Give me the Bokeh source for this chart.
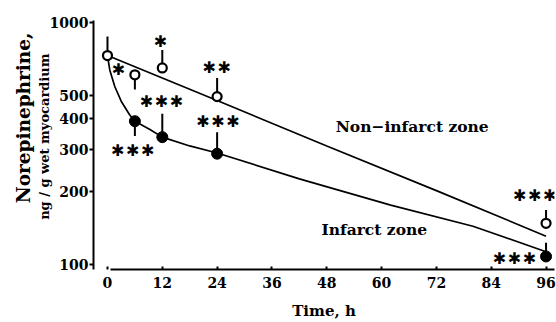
import math
from bokeh.plotting import figure
from bokeh.models import FixedTicker, NumeralTickFormatter, Title, Range1d
from bokeh.core.properties import value
from bokeh.embed import file_html
from bokeh.resources import INLINE

# ---- data ----
x_ticks = [0, 12, 24, 36, 48, 60, 72, 84, 96]
y_ticks = [100, 200, 300, 400, 500, 1000]

# non-infarct zone (open circles) and one-sided error bar ends
non_t = [0, 6, 12, 24, 96]
non_v = [730, 608, 649, 494, 148]
non_err = [875, 528, 769, 590, 168]

# infarct zone (filled circles)
inf_t = [6, 12, 24, 96]
inf_v = [391, 336, 287, 108]
inf_err = [340, 420, 352, 123]

# fitted curves
non_fit_t = [0, 24, 48, 72, 96]
non_fit_v = [730, 476, 309, 202, 131]
inf_fit_t = [0, 0.5, 1.6, 3, 4.8, 6, 9.2, 12, 18, 24, 42, 62, 80, 96]
inf_fit_v = [730, 637, 544, 473, 417, 391, 362, 336, 309, 289, 226, 176, 144, 113]

# significance stars: position (data) and count
star_t = [11.6, 2.4, 23.9, 11.8, 5.5, 24.2, 93.5, 89.1]
star_v = [831, 637, 649, 473, 295, 391, 193, 106]
star_n = [1, 1, 2, 3, 3, 3, 3, 3]

zone_names = ["Non\u2212infarct zone", "Infarct zone"]
zone_t = [66.7, 58.4]
zone_v = [373, 139]

y_title_1 = "Norepinephrine,"
y_title_2 = "ng / g wet myocardium"

FONT = "DejaVu Serif"

p = figure(width=556, height=322, output_backend="svg", toolbar_location=None,
           x_range=Range1d(-3.06, 97.85), y_range=Range1d(95.4, 1019),
           y_axis_type="log",
           min_border_left=93, min_border_right=2, min_border_top=20,
           min_border_bottom=50)
p.outline_line_color = None
p.grid.visible = False
p.background_fill_color = "white"
p.border_fill_color = "white"

# x axis
xa = p.xaxis[0]
xa.ticker = FixedTicker(ticks=x_ticks, minor_ticks=[])
xa.bounds = (0.6, 97.85)
xa.axis_line_width = 2
xa.axis_line_color = "black"
xa.major_tick_line_width = 2
xa.major_tick_in = 3
xa.major_tick_out = 0
xa.minor_tick_in = 0
xa.minor_tick_out = 0
xa.major_label_text_font = FONT
xa.major_label_text_font_style = "bold"
xa.major_label_text_font_size = "14px"
xa.major_label_text_color = "black"
xa.major_label_standoff = 7
xa.axis_label = "Time, h"
xa.axis_label_text_font = FONT
xa.axis_label_text_font_style = "bold"
xa.axis_label_text_font_size = "15px"
xa.axis_label_text_color = "black"
xa.axis_label_standoff = 11

# y axis
ya = p.yaxis[0]
ya.ticker = FixedTicker(ticks=y_ticks, minor_ticks=[])
ya.formatter = NumeralTickFormatter(format="0")
ya.axis_line_width = 2
ya.axis_line_color = "black"
ya.major_tick_line_width = 2
ya.major_tick_in = 0
ya.major_tick_out = 4
ya.minor_tick_in = 0
ya.minor_tick_out = 0
ya.major_label_text_font = FONT
ya.major_label_text_font_style = "bold"
ya.major_label_text_font_size = "14px"
ya.major_label_text_color = "black"
ya.major_label_standoff = 1

# y axis titles (two lines, different sizes)
p.add_layout(Title(text=y_title_2, align="right", offset=33, standoff=-11,
                   text_font=FONT, text_font_style="bold",
                   text_font_size="13px", text_color="black"), "left")
p.add_layout(Title(text=y_title_1, align="right", offset=12, standoff=13,
                   text_font=FONT, text_font_style="bold",
                   text_font_size="18.5px", text_color="black"), "left")

# fitted curves
p.line(non_fit_t, non_fit_v, line_color="black", line_width=1.7)
p.line(inf_fit_t, inf_fit_v, line_color="black", line_width=1.7)

# error bars
p.segment(x0=non_t, y0=non_v, x1=non_t, y1=non_err, line_color="black", line_width=2)
p.segment(x0=inf_t, y0=inf_v, x1=inf_t, y1=inf_err, line_color="black", line_width=2)

# markers
p.scatter(inf_t, inf_v, size=11, marker="circle", fill_color="black",
          line_color="black", line_width=1)
p.scatter(non_t, non_v, size=9, marker="circle", fill_color="white",
          line_color="black", line_width=2.2)

# stars
sx, sy, sdx = [], [], []
for t, v, n in zip(star_t, star_v, star_n):
    for i in range(n):
        sx.append(t)
        sy.append(v)
        sdx.append((i - (n - 1) / 2) * 15)
p.text(x=sx, y=sy, x_offset=sdx, text=["\u2731"] * len(sx),
       text_align="center", text_baseline="middle",
       text_font=value("DejaVu Sans"), text_font_size="16px", text_color="black")

# zone labels
p.text(x=zone_t, y=zone_v, text=zone_names, text_align="center",
       text_baseline="middle", text_font=value(FONT), text_font_style="bold",
       text_font_size="15.5px", text_color="black")

open("out.html", "w").write(file_html(p, INLINE))
